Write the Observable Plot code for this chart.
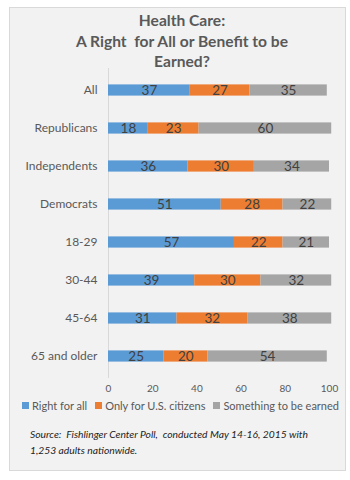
<!DOCTYPE html>
<html><head><meta charset="utf-8">
<script src="https://cdn.jsdelivr.net/npm/d3@7"></script>
<script src="https://cdn.jsdelivr.net/npm/@observablehq/plot@0.6"></script>
<style>
body{margin:0;background:#fff;font-family:Lato,"Open Sans",sans-serif;}
#panel{position:absolute;left:9px;top:7px;width:335px;height:462px;background:#f2f2f2;border:1px solid #d9d9d9;}
#title{position:absolute;left:0;top:10px;width:364px;text-align:center;font-weight:bold;font-size:15.6px;line-height:20.5px;color:#595959;}
#chart{position:absolute;left:0;top:68px;}
#legend{position:absolute;left:0;top:399px;width:361px;display:flex;justify-content:center;gap:8px;font-size:11px;color:#595959;white-space:nowrap;}
#legend span.sw{display:inline-block;width:7px;height:7px;margin-right:3px;vertical-align:1px;}
#source{position:absolute;left:30px;top:426px;font-style:italic;font-size:10.3px;line-height:16px;color:#222;}
</style></head>
<body>
<div id="panel"></div>
<div id="title">Health Care:<br>A Right&nbsp; for All or Benefit to be<br>Earned?</div>
<div id="chart"></div>
<div id="legend"></div>
<div id="source">Source:&nbsp; Fishlinger Center Poll,&nbsp; conducted May 14-16, 2015 with<br>1,253 adults nationwide.</div>
<script>
const groups = ["All","Republicans","Independents","Democrats","18-29","30-44","45-64","65 and older"];
const series = ["Right for all","Only for U.S. citizens","Something to be earned"];
const colors = ["#5b9bd5","#ed7d31","#a5a5a5"];
const rightForAll = [37,18,36,51,57,39,31,25];
const onlyCitizens = [27,23,30,28,22,30,32,20];
const toBeEarned = [35,60,34,22,21,32,38,54];
const xTicks = [0,20,40,60,80,100];

const vals = [rightForAll, onlyCitizens, toBeEarned];
const data = [];
series.forEach((s, si) => groups.forEach((g, gi) => data.push({group: g, series: s, value: vals[si][gi]})));

const chart = Plot.plot({
  width: 350,
  height: 332,
  marginLeft: 108,
  marginRight: 21,
  marginTop: 0,
  marginBottom: 22,
  style: {background: "transparent", fontFamily: "Lato, 'Open Sans', sans-serif", color: "#595959"},
  x: {domain: [0, 100], ticks: xTicks, label: null},
  y: {domain: groups, label: null, padding: 0},
  color: {domain: series, range: colors},
  marks: [
    Plot.ruleX([0], {stroke: "#d9d9d9", strokeWidth: 1}),
    Plot.barX(data, Plot.stackX({x: "value", y: "group", fill: "series", order: series, insetTop: 13.4, insetBottom: 13.4})),
    Plot.text(data, Plot.stackX({x: "value", y: "group", z: "series", order: series, text: "value", fill: "#404040", fontSize: 13.5})),
    Plot.axisX({ticks: xTicks, tickSize: 0, tickPadding: 6, fontSize: 10, fill: "#595959"}),
    Plot.axisY({tickSize: 0, tickPadding: 11, fontSize: 12, fill: "#595959"})
  ]
});
document.getElementById("chart").appendChild(chart);

const leg = document.getElementById("legend");
series.forEach((s, i) => {
  const d = document.createElement("div");
  d.innerHTML = `<span class="sw" style="background:${colors[i]}"></span>${s}`;
  leg.appendChild(d);
});
</script>
</body></html>
